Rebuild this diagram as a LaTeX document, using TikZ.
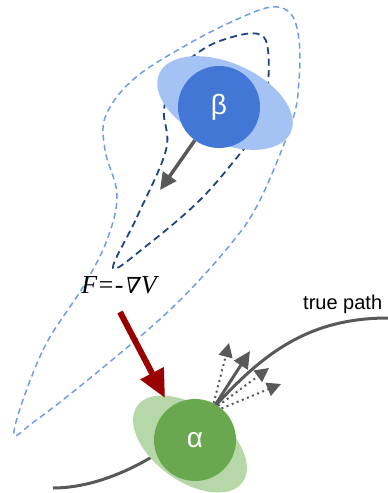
\documentclass[tikz,border=0pt]{standalone}
\usepackage{fontspec}
\setmainfont{Liberation Sans}
\newfontfamily\serifit{Liberation Serif}
\newfontfamily\nablafont[FakeSlant=0.22]{DejaVu Serif}
\usetikzlibrary{shapes.geometric,arrows.meta}
\definecolor{bluedark}{HTML}{4277D6}
\definecolor{bluelight}{HTML}{A4C2F4}
\definecolor{greendark}{HTML}{6AA84F}
\definecolor{greenlight}{HTML}{B6D7A8}
\definecolor{dashlight}{HTML}{6D9EEB}
\definecolor{dashdark}{HTML}{1C4587}
\definecolor{arrowgray}{HTML}{595959}
\definecolor{forcered}{HTML}{990000}
\tikzset{
  halo/.style={ellipse, inner sep=0pt, draw=none},
  particle/.style={circle, inner sep=0pt, minimum size=82pt, text=white, font=\fontsize{28}{30}\selectfont},
  outercontour/.style={dashlight, line width=1.5pt, dash pattern=on 6pt off 4pt},
  innercontour/.style={dashdark, line width=1.8pt, dash pattern=on 7pt off 4.5pt},
  grayarrow/.style={arrowgray, line width=3pt, -{Triangle[length=17pt,width=16pt]}},
  dotarrow/.style={arrowgray, line width=2pt, dash pattern=on 2pt off 3.5pt, -{Triangle[length=14pt,width=14pt]}},
  forcearrow/.style={forcered, line width=6pt, -{Triangle[length=28pt,width=25pt]}},
  pathline/.style={arrowgray, line width=3pt},
}
\begin{document}
\begin{tikzpicture}[x=1pt,y=-1pt]
\path[use as bounding box] (0,0) rectangle (388,493);
% outer potential contour
\draw[outercontour] plot[smooth cycle, tension=0.6] coordinates {
  (14,431) (43,350) (83,287) (107,240) (117,195) (105,150) (106,115)
  (135,78) (190,43) (240,18) (272,7) (291,14) (299,40) (299,80) (292,122)
  (260,200) (230,245) (173,307) (100,370) (35,421)};
% inner potential contour
\draw[innercontour] plot[smooth cycle, tension=0.6] coordinates {
  (113,268) (137,217) (166,150) (164,110) (175,75) (205,48) (240,35)
  (261,35) (268,50) (268,85) (262,125) (243,150) (200,200) (145,247)};
% beta
\node[halo, fill=bluelight, minimum width=144pt, minimum height=80pt, rotate=-24] (betahalo) at (225,103) {};
\node[particle, fill=bluedark] (beta) at (219,107) {β};
\coordinate (betatip) at (160,190);
\draw[grayarrow, line width=3.5pt] (beta.234) -- (betatip);
% true path
\coordinate (pathstart) at (53,488);
\coordinate (pathend) at (388,318);
\node[anchor=base west, inner sep=0pt, font=\fontsize{20}{22}\selectfont] (truepath) at (303,309) {true path};
\draw[pathline] (pathstart) .. controls (110,488) and (175,450) .. (217,404)
  .. controls (265,352) and (310,318) .. (pathend);
% alpha
\node[halo, fill=greenlight, minimum width=130pt, minimum height=74pt, rotate=-36] (alphahalo) at (190,444) {};
\node[particle, fill=greendark] (alpha) at (195,440) {α};
% small arrows from alpha
\coordinate (t1) at (229,343);
\coordinate (t2) at (250,351);
\coordinate (t3) at (269,368);
\coordinate (t4) at (281,384);
\draw[dotarrow] (alpha.63) -- (t1);
\draw[dotarrow] (alpha.56) -- (t3);
\draw[dotarrow] (alpha.50) -- (t4);
\draw[grayarrow] (alpha.60) -- (t2);
% force label and arrow
\node[font=\fontsize{26}{28}\selectfont, inner sep=0pt] (force) at (119,285) {\serifit\itshape F=-{\nablafont\fontsize{22}{24}\selectfont ∇}\kern2pt V};
\coordinate (forcestart) at (120,312);
\coordinate (forcetip) at (165,398);
\draw[forcearrow] (forcestart) -- (forcetip);
\end{tikzpicture}
\end{document}
